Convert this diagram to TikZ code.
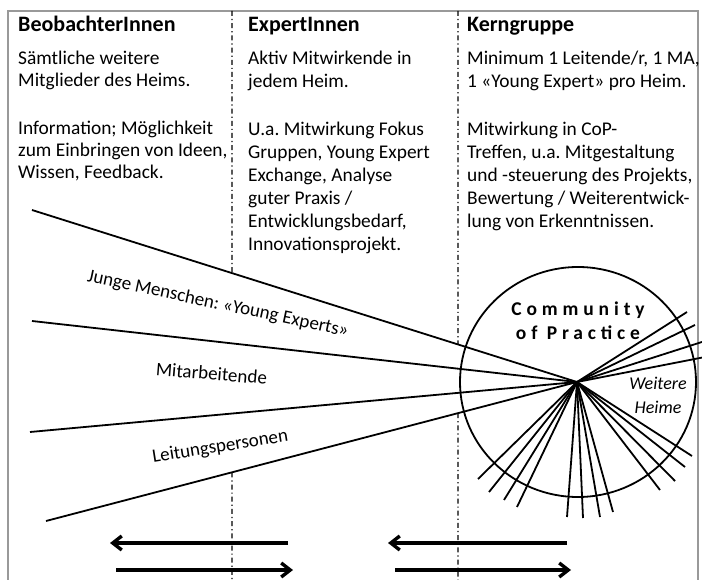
\documentclass[tikz,border=0pt]{standalone}
\usepackage{fontspec}
\setmainfont{Carlito}
\newfontfamily\spacedfont[LetterSpace=25]{Carlito}
\usetikzlibrary{arrows.meta}
\frenchspacing
\begin{document}
\begin{tikzpicture}[x=1pt,y=-1pt,
  frame/.style={draw=black!40,line width=1.5pt},
  sep/.style={line width=1.2pt,dash pattern=on 5pt off 3pt on 1.2pt off 3pt},
  fan/.style={line width=1.8pt},
  bigarrow/.style={line width=3.4pt,-{Straight Barb[length=9pt,width=14pt]}},
  head/.style={anchor=base west,inner sep=0pt,font=\fontsize{22}{24}\selectfont\bfseries},
  body/.style={anchor=base west,inner sep=0pt,align=left,font=\fontsize{19.4}{23}\selectfont\frenchspacing},
  lab/.style={anchor=base,inner sep=0pt,font=\fontsize{19}{23}\selectfont\frenchspacing}
]
\useasboundingbox (0,0) rectangle (702,580);
\clip (0,0) rectangle (702,580);
\fill[white] (0,0) rectangle (702,580);
% frame
\draw[frame] (8,590) -- (8,11) -- (698,11) -- (698,590);
% fan coordinates
\coordinate (C) at (577,382);
\coordinate (L1) at (32,210);
\coordinate (L2) at (32,321);
\coordinate (L3) at (30,432);
\coordinate (L4) at (46,521);
% separators
\coordinate (s1t) at (232,11);
\coordinate (s1b) at (232,580);
\coordinate (s2t) at (458,11);
\coordinate (s2b) at (458,580);
\draw[sep] (s1t) -- (intersection of s1t--s1b and L1--C);
\draw[sep] (intersection of s1t--s1b and L4--C) -- (s1b);
\draw[sep] (s2t) -- (intersection of s2t--s2b and L1--C);
\draw[sep] (intersection of s2t--s2b and L4--C) -- (s2b);
% texts (multi-line nodes: base = last line)
\node[head] (h1) at (18,32) {BeobachterInnen};
\node[head] (h2) at (248,32) {ExpertInnen};
\node[head] (h3) at (467,32) {Kerngruppe};
\node[body,font=\fontsize{19.4}{22}\selectfont\frenchspacing] (t1) at (18,179) {Sämtliche weitere\\Mitglieder des Heims.\\[26pt]Information; Möglichkeit\\zum Einbringen von Ideen,\\Wissen, Feedback.};
\node[body] (t2) at (248,251) {Aktiv Mitwirkende in\\jedem Heim.\\[25pt]U.a. Mitwirkung Fokus\\Gruppen, Young Expert\\Exchange, Analyse\\guter Praxis /\\Entwicklungsbedarf,\\Innovationsprojekt.};
\node[body] (t3) at (467,228) {Minimum 1 Leitende/r, 1 MA,\\1 «Young Expert» pro Heim.\\[25pt]Mitwirkung in CoP-\\Treffen, u.a. Mitgestaltung\\und -steuerung des Projekts,\\Bewertung / Weiterentwick-\\lung von Erkenntnissen.};
% circle
\draw[fan] (578,382) ellipse [x radius=118, y radius=115];
% left fan
\foreach \p in {L1,L2,L3,L4} \draw[fan] (\p) -- (C);
% right fan
\foreach \i/\x/\y in {1/687/312,2/695/325,3/705/341,4/705/357,
  5/478/479,6/489/492,7/504/500,8/517/507,
  9/567/517,10/583/518,11/600/517,12/613/512,
  13/660/490,14/675/481,15/685/467,16/692/456}{
  \coordinate (R\i) at (\x,\y);
  \draw[fan] (C) -- (R\i);
}
% labels
\node[lab,rotate=-12] (young) at (217,309) {Junge Menschen: «Young Experts»};
\node[lab,rotate=-4.6] (ma) at (211,380) {Mitarbeitende};
\node[lab,rotate=9] (lead) at (221,452) {Leitungspersonen};
\node[inner sep=0pt,font=\fontsize{19.5}{22}\selectfont\spacedfont\bfseries,anchor=base] (cop1) at (578,316) {Community};
\node[inner sep=0pt,font=\fontsize{19.5}{22}\selectfont\spacedfont\bfseries,anchor=base] (cop2) at (578,339) {of Practice};
\node[inner sep=0pt,font=\fontsize{18}{22}\selectfont\itshape,anchor=base] (wh1) at (658,389) {Weitere};
\node[inner sep=0pt,font=\fontsize{18}{22}\selectfont\itshape,anchor=base] (wh2) at (658,413) {Heime};
% arrows
\coordinate (a1s) at (288,543); \coordinate (a1e) at (110,543);
\coordinate (a2s) at (116,570); \coordinate (a2e) at (293,570);
\coordinate (a3s) at (567,543); \coordinate (a3e) at (388,543);
\coordinate (a4s) at (395,570); \coordinate (a4e) at (571,570);
\draw[bigarrow] (a1s) -- (a1e);
\draw[bigarrow] (a2s) -- (a2e);
\draw[bigarrow] (a3s) -- (a3e);
\draw[bigarrow] (a4s) -- (a4e);
\end{tikzpicture}
\end{document}
